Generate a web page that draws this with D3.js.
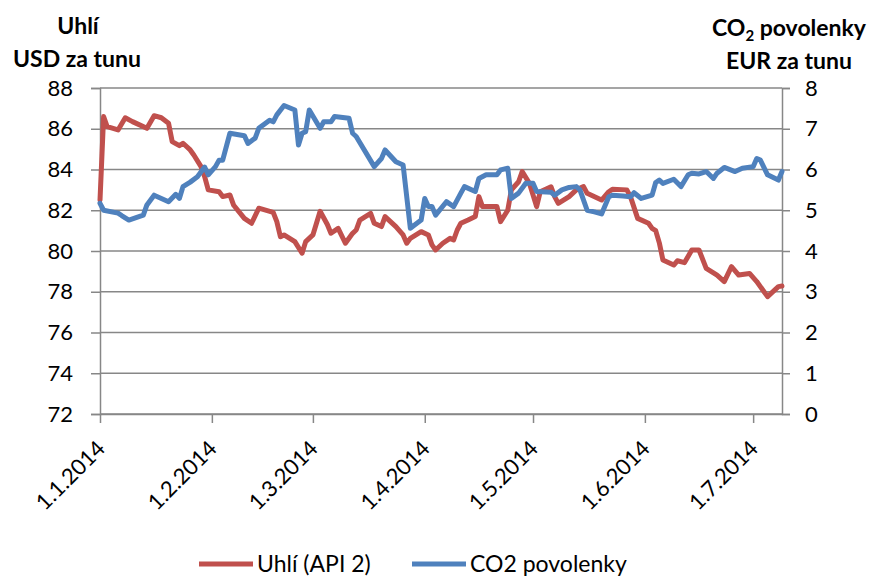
<!DOCTYPE html>
<html>
<head>
<meta charset="utf-8">
<script src="https://cdn.jsdelivr.net/npm/d3@7"></script>
<style>
  body { margin: 0; background: #fff; }
  text { font-family: Lato, "Open Sans", sans-serif; fill: #000; }
</style>
</head>
<body>
<svg id="chart"></svg>
<script>
// Uhlí (API 2), USD za tunu
const coalDates = [
  "2014-01-01","2014-01-02","2014-01-03","2014-01-06","2014-01-08","2014-01-10","2014-01-14","2014-01-16",
  "2014-01-18","2014-01-20","2014-01-21","2014-01-23","2014-01-24","2014-01-26","2014-01-27","2014-01-29",
  "2014-01-30","2014-01-31","2014-02-03","2014-02-04","2014-02-06","2014-02-07","2014-02-10","2014-02-12",
  "2014-02-14","2014-02-18","2014-02-19","2014-02-20","2014-02-21","2014-02-24","2014-02-26","2014-02-27",
  "2014-03-01","2014-03-03","2014-03-05","2014-03-06","2014-03-08","2014-03-10","2014-03-12","2014-03-13",
  "2014-03-14","2014-03-17","2014-03-18","2014-03-20","2014-03-21","2014-03-24","2014-03-26","2014-03-27",
  "2014-03-28","2014-03-31","2014-04-02","2014-04-03","2014-04-04","2014-04-06","2014-04-08","2014-04-09",
  "2014-04-10","2014-04-11","2014-04-13","2014-04-15","2014-04-16","2014-04-17","2014-04-21","2014-04-22",
  "2014-04-24","2014-04-25","2014-04-27","2014-04-28","2014-04-30","2014-05-02","2014-05-03","2014-05-06",
  "2014-05-07","2014-05-08","2014-05-11","2014-05-13","2014-05-15","2014-05-16","2014-05-20","2014-05-22",
  "2014-05-23","2014-05-27","2014-05-28","2014-05-30","2014-06-02","2014-06-03","2014-06-04","2014-06-05",
  "2014-06-06","2014-06-09","2014-06-10","2014-06-12","2014-06-14","2014-06-16","2014-06-18","2014-06-21",
  "2014-06-23","2014-06-25","2014-06-27","2014-06-30","2014-07-02","2014-07-05","2014-07-08","2014-07-09"
];
const coalValues = [
  82.5, 86.6, 86.1, 85.94, 86.54, 86.35, 86.02, 86.64,
  86.54, 86.27, 85.37, 85.17, 85.29, 84.96, 84.71, 84.14,
  83.65, 83.0, 82.91, 82.67, 82.75, 82.26, 81.6, 81.36,
  82.1, 81.9, 81.44, 80.7, 80.79, 80.46, 79.89, 80.46,
  80.79, 81.95, 81.3, 80.87, 81.11, 80.38, 80.87, 81.03,
  81.52, 81.85, 81.36, 81.2, 81.69, 81.2, 80.79, 80.38,
  80.62, 80.95, 80.79, 80.3, 80.05, 80.38, 80.62, 80.54,
  81.03, 81.36, 81.52, 81.69, 82.67, 82.18, 82.18, 81.44,
  82.0, 83.0, 83.4, 83.9, 83.32, 82.18, 82.91, 83.15,
  82.67, 82.34, 82.67, 83.0, 83.16, 82.83, 82.5, 82.91,
  83.03, 83.0, 82.67, 81.6, 81.36, 81.11, 81.0, 80.4,
  79.56, 79.31, 79.52, 79.43, 80.05, 80.05, 79.15, 78.82,
  78.5, 79.23, 78.82, 78.9, 78.5, 77.76, 78.25, 78.28
];

// CO2 povolenky, EUR za tunu
const co2Dates = [
  "2014-01-01","2014-01-02","2014-01-06","2014-01-07","2014-01-09","2014-01-13","2014-01-14","2014-01-16",
  "2014-01-20","2014-01-22","2014-01-23","2014-01-24","2014-01-26","2014-01-28","2014-01-30","2014-01-31",
  "2014-02-02","2014-02-03","2014-02-04","2014-02-06","2014-02-10","2014-02-11","2014-02-13","2014-02-14",
  "2014-02-17","2014-02-18","2014-02-19","2014-02-21","2014-02-24","2014-02-25","2014-02-26","2014-02-27",
  "2014-02-28","2014-03-03","2014-03-04","2014-03-06","2014-03-07","2014-03-11","2014-03-12","2014-03-13",
  "2014-03-18","2014-03-20","2014-03-21","2014-03-24","2014-03-26","2014-03-28","2014-03-31","2014-04-01",
  "2014-04-02","2014-04-03","2014-04-04","2014-04-07","2014-04-09","2014-04-11","2014-04-12","2014-04-15",
  "2014-04-16","2014-04-18","2014-04-21","2014-04-22","2014-04-24","2014-04-25","2014-04-27","2014-04-29",
  "2014-05-01","2014-05-02","2014-05-06","2014-05-07","2014-05-09","2014-05-11","2014-05-13","2014-05-14",
  "2014-05-16","2014-05-18","2014-05-20","2014-05-22","2014-05-23","2014-05-26","2014-05-28","2014-05-29",
  "2014-05-31","2014-06-03","2014-06-04","2014-06-05","2014-06-06","2014-06-09","2014-06-11","2014-06-13",
  "2014-06-14","2014-06-16","2014-06-18","2014-06-20","2014-06-21","2014-06-23","2014-06-26","2014-06-28",
  "2014-07-01","2014-07-02","2014-07-03","2014-07-05","2014-07-08","2014-07-09"
];
const co2Values = [
  5.17, 5.0, 4.93, 4.87, 4.76, 4.88, 5.13, 5.37,
  5.21, 5.39, 5.29, 5.58, 5.69, 5.82, 6.06, 5.87,
  6.07, 6.23, 6.23, 6.89, 6.83, 6.64, 6.77, 7.01,
  7.21, 7.17, 7.34, 7.57, 7.46, 6.6, 6.89, 6.93,
  7.46, 7.01, 7.17, 7.17, 7.3, 7.26, 6.89, 6.81,
  6.07, 6.27, 6.48, 6.19, 6.11, 4.56, 4.76, 5.29,
  5.09, 5.09, 4.88, 5.21, 5.09, 5.42, 5.58, 5.46,
  5.78, 5.87, 5.87, 5.99, 6.03, 5.29, 5.42, 5.66,
  5.66, 5.46, 5.44, 5.37, 5.5, 5.56, 5.58, 5.5,
  5.0, 4.96, 4.91, 5.33, 5.37, 5.35, 5.33, 5.43,
  5.29, 5.37, 5.68, 5.74, 5.66, 5.76, 5.58, 5.87,
  5.91, 5.89, 5.95, 5.78, 5.91, 6.05, 5.95, 6.03,
  6.07, 6.27, 6.23, 5.87, 5.74, 5.95
];

const leftTicks = [72, 74, 76, 78, 80, 82, 84, 86, 88];
const rightTicks = [0, 1, 2, 3, 4, 5, 6, 7, 8];
const monthTicks = ["2014-01-01","2014-02-01","2014-03-01","2014-04-01","2014-05-01","2014-06-01","2014-07-01"];
const seriesNames = ["Uhlí (API 2)", "CO2 povolenky"];

const w = 873;
const h = 576;
const plotLeft = 100, plotRight = 782, plotTop = 88, plotBottom = 414;

const parse = d3.timeParse("%Y-%m-%d");
const fmt = d3.timeFormat("%-d.%-m.%Y");

const svg = d3.select("#chart").attr("width", w).attr("height", h);

const x = d3.scaleTime()
  .domain([parse("2014-01-01"), parse("2014-07-09")])
  .range([plotLeft, plotRight]);
const yL = d3.scaleLinear().domain([72, 88]).range([plotBottom, plotTop]);
const yR = d3.scaleLinear().domain([0, 8]).range([plotBottom, plotTop]);

const gridColor = "#878787";

// gridlines
svg.append("g")
  .selectAll("line")
  .data(leftTicks)
  .enter()
  .append("line")
  .attr("x1", plotLeft)
  .attr("x2", plotRight)
  .attr("y1", (d) => yL(d))
  .attr("y2", (d) => yL(d))
  .attr("stroke", gridColor)
  .attr("stroke-width", 1.5);

// left axis
const axL = svg.append("g")
  .attr("transform", `translate(${plotLeft},0)`)
  .call(d3.axisLeft(yL).tickValues(leftTicks).tickSize(9).tickPadding(18));
axL.selectAll("text").style("font-size", "22px");

// right axis
const axR = svg.append("g")
  .attr("transform", `translate(${plotRight},0)`)
  .call(d3.axisRight(yR).tickValues(rightTicks).tickSize(8).tickPadding(15));
axR.selectAll("text").style("font-size", "22px");

// bottom axis
const axB = svg.append("g")
  .attr("transform", `translate(0,${plotBottom})`)
  .call(d3.axisBottom(x).tickValues(monthTicks.map(parse)).tickFormat(fmt).tickSize(9).tickSizeOuter(0));
axB.selectAll("text")
  .style("font-size", "22px")
  .attr("text-anchor", "end")
  .attr("x", 0)
  .attr("y", 0)
  .attr("dy", 0)
  .attr("transform", "translate(6,36) rotate(-45)");

svg.selectAll(".domain, .tick line")
  .attr("stroke", gridColor)
  .attr("stroke-width", 1.5);

// lines
const coal = coalDates.map((d, i) => ({ date: parse(d), value: coalValues[i] }));
const co2 = co2Dates.map((d, i) => ({ date: parse(d), value: co2Values[i] }));

svg.append("path")
  .datum(coal)
  .attr("fill", "none")
  .attr("stroke", "#C0504D")
  .attr("stroke-width", 5)
  .attr("stroke-linejoin", "round")
  .attr("stroke-linecap", "round")
  .attr("d", d3.line().x((d) => x(d.date)).y((d) => yL(d.value)));

svg.append("path")
  .datum(co2)
  .attr("fill", "none")
  .attr("stroke", "#4F81BD")
  .attr("stroke-width", 5)
  .attr("stroke-linejoin", "round")
  .attr("stroke-linecap", "round")
  .attr("d", d3.line().x((d) => x(d.date)).y((d) => yR(d.value)));

// axis titles
const titleStyle = (t) => t.style("font-size", "23px").style("font-weight", "bold");
svg.append("text").attr("x", 78).attr("y", 34).attr("text-anchor", "middle").text("Uhlí").call(titleStyle);
svg.append("text").attr("x", 77).attr("y", 67).attr("text-anchor", "middle").text("USD za tunu").call(titleStyle);

const co2Title = svg.append("text").attr("x", 789).attr("y", 36).attr("text-anchor", "middle").call(titleStyle);
co2Title.append("tspan").text("CO");
co2Title.append("tspan").attr("dy", 5).style("font-size", "15px").text("2");
co2Title.append("tspan").attr("dy", -5).text(" povolenky");
svg.append("text").attr("x", 789).attr("y", 69).attr("text-anchor", "middle").text("EUR za tunu").call(titleStyle);

// legend
const legendColors = ["#C0504D", "#4F81BD"];
const legendX = [199, 412];
const legend = svg.append("g")
  .selectAll("g")
  .data(seriesNames)
  .enter()
  .append("g")
  .attr("transform", (d, i) => `translate(${legendX[i]},564)`);
legend.append("line")
  .attr("x1", 0).attr("x2", 54)
  .attr("stroke", (d, i) => legendColors[i])
  .attr("stroke-width", 5);
legend.append("text")
  .attr("x", 58)
  .attr("y", 8)
  .style("font-size", "23px")
  .text((d) => d);
</script>
</body>
</html>
